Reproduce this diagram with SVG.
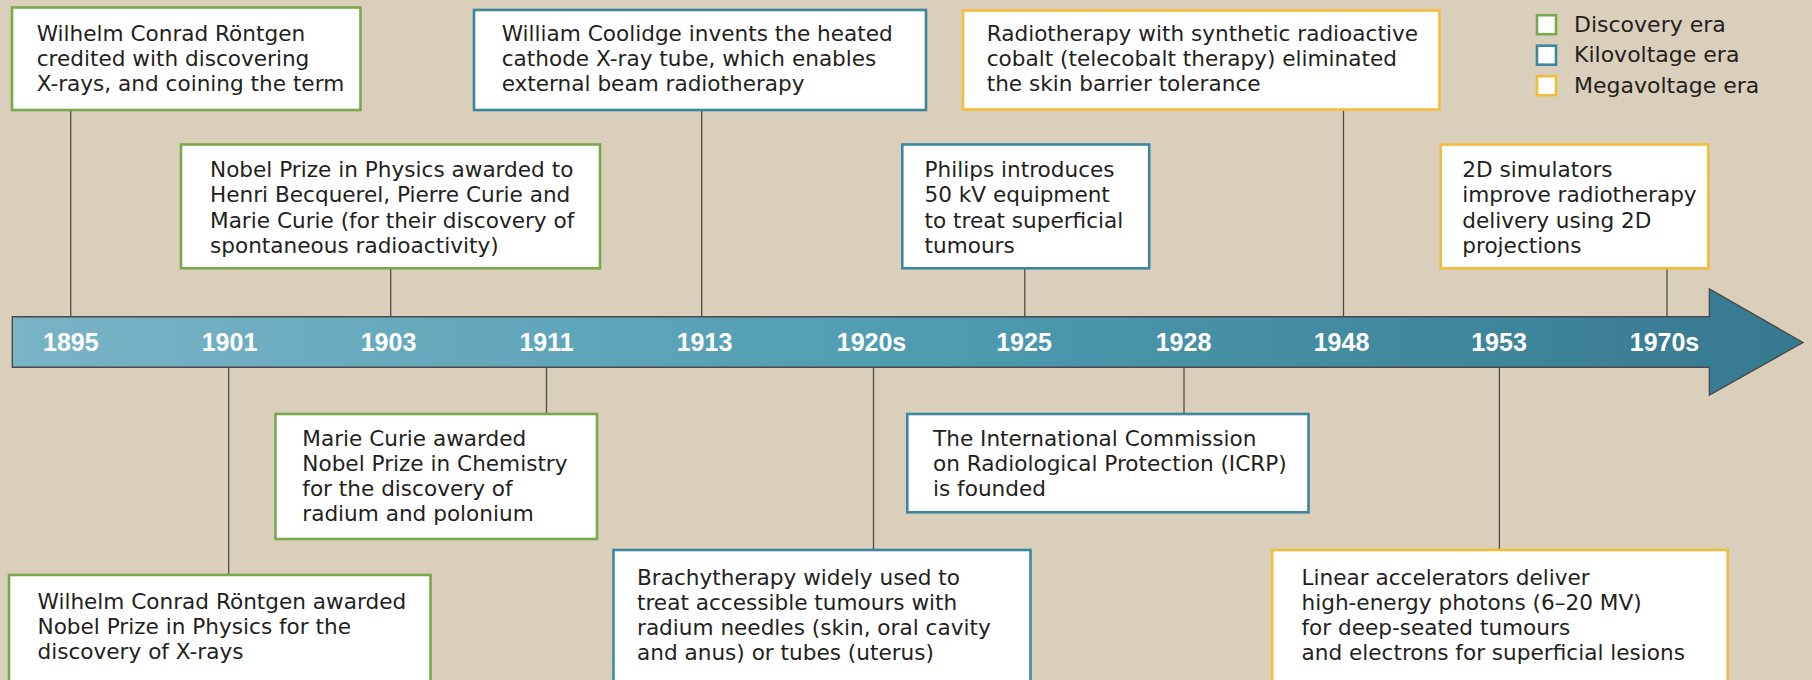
<svg xmlns="http://www.w3.org/2000/svg" width="1812" height="680" viewBox="0 0 1812 680">
<style>
.bx{fill:#ffffff;stroke-width:2.6}
.g{stroke:#7aa84c}
.b{stroke:#3c87a0}
.y{stroke:#f1bd3d}
.t{font-family:"DejaVu Sans",sans-serif;font-size:21.6px;fill:#231f20}
.lg{font-family:"DejaVu Sans",sans-serif;font-size:22px;fill:#231f20}
.yr{font-family:"Liberation Sans",Arial,sans-serif;font-weight:bold;font-size:25px;fill:#ffffff;text-anchor:middle}
.c{stroke:#4d4d4d;stroke-width:1.3;fill:none}
</style>
<defs>
<linearGradient id="bar" x1="0" y1="0" x2="1" y2="0">
<stop offset="0" stop-color="#7ab4c6"/>
<stop offset="0.5" stop-color="#4f9cb1"/>
<stop offset="1" stop-color="#367990"/>
</linearGradient>
</defs>
<rect x="0" y="0" width="1812" height="680" fill="#d9cfba"/>

<g id="connectors">
<line class="c" x1="70.7" y1="110" x2="70.7" y2="317"/>
<line class="c" x1="390.7" y1="268" x2="390.7" y2="317"/>
<line class="c" x1="701.7" y1="110" x2="701.7" y2="317"/>
<line class="c" x1="1024.8" y1="268" x2="1024.8" y2="317"/>
<line class="c" x1="1343.5" y1="110" x2="1343.5" y2="317"/>
<line class="c" x1="1667" y1="268" x2="1667" y2="317"/>
<line class="c" x1="228.7" y1="367" x2="228.7" y2="575"/>
<line class="c" x1="546.5" y1="367" x2="546.5" y2="414"/>
<line class="c" x1="873.5" y1="367" x2="873.5" y2="550"/>
<line class="c" x1="1184" y1="367" x2="1184" y2="414"/>
<line class="c" x1="1499.4" y1="367" x2="1499.4" y2="550"/>
</g>

<g id="timeline">
<polygon points="12.3,316.7 1709.4,316.7 1709.4,289 1803,342.5 1709.4,395 1709.4,367.3 12.3,367.3" fill="url(#bar)" stroke="#4a4a4a" stroke-width="1.4"/>
<text class="yr" x="70.8" y="351">1895</text>
<text class="yr" x="229.5" y="351">1901</text>
<text class="yr" x="388.5" y="351">1903</text>
<text class="yr" x="546.6" y="351">1911</text>
<text class="yr" x="704.5" y="351">1913</text>
<text class="yr" x="871.5" y="351">1920s</text>
<text class="yr" x="1024" y="351">1925</text>
<text class="yr" x="1183.5" y="351">1928</text>
<text class="yr" x="1341.5" y="351">1948</text>
<text class="yr" x="1499" y="351">1953</text>
<text class="yr" x="1664.5" y="351">1970s</text>
</g>

<g id="n1895">
<rect class="bx g" x="12" y="7.5" width="348.5" height="102.5"/>
<text class="t"><tspan x="36.7" y="40.5">Wilhelm Conrad Röntgen</tspan><tspan x="36.7" y="65.5">credited with discovering</tspan><tspan x="36.7" y="90.5">X-rays, and coining the term</tspan></text>
</g>

<g id="n1903">
<rect class="bx g" x="181" y="144.5" width="419" height="123.8"/>
<text class="t"><tspan x="210" y="176.7">Nobel Prize in Physics awarded to</tspan><tspan x="210" y="202.2">Henri Becquerel, Pierre Curie and</tspan><tspan x="210" y="227.7">Marie Curie (for their discovery of</tspan><tspan x="210" y="253">spontaneous radioactivity)</tspan></text>
</g>

<g id="n1913">
<rect class="bx b" x="474" y="10" width="452" height="100"/>
<text class="t"><tspan x="501.7" y="40.5">William Coolidge invents the heated</tspan><tspan x="501.7" y="65.5">cathode X-ray tube, which enables</tspan><tspan x="501.7" y="90.5">external beam radiotherapy</tspan></text>
</g>

<g id="n1925">
<rect class="bx b" x="902.3" y="144.5" width="246.9" height="123.8"/>
<text class="t"><tspan x="924.5" y="176.7">Philips introduces</tspan><tspan x="924.5" y="202.2">50 kV equipment</tspan><tspan x="924.5" y="227.7">to treat superficial</tspan><tspan x="924.5" y="253">tumours</tspan></text>
</g>

<g id="n1948">
<rect class="bx y" x="963" y="10.5" width="476.5" height="99"/>
<text class="t"><tspan x="986.7" y="40.5">Radiotherapy with synthetic radioactive</tspan><tspan x="986.7" y="65.5">cobalt (telecobalt therapy) eliminated</tspan><tspan x="986.7" y="90.5">the skin barrier tolerance</tspan></text>
</g>

<g id="n1970s">
<rect class="bx y" x="1440.7" y="144.5" width="267.6" height="123.8"/>
<text class="t"><tspan x="1462.3" y="176.7">2D simulators</tspan><tspan x="1462.3" y="202.2">improve radiotherapy</tspan><tspan x="1462.3" y="227.7">delivery using 2D</tspan><tspan x="1462.3" y="253">projections</tspan></text>
</g>

<g id="n1901">
<rect class="bx g" x="9" y="575" width="421.5" height="120"/>
<text class="t"><tspan x="37.5" y="609.3">Wilhelm Conrad Röntgen awarded</tspan><tspan x="37.5" y="634.3">Nobel Prize in Physics for the</tspan><tspan x="37.5" y="659.3">discovery of X-rays</tspan></text>
</g>

<g id="n1911">
<rect class="bx g" x="275.5" y="414" width="321.5" height="125"/>
<text class="t"><tspan x="302.3" y="445.7">Marie Curie awarded</tspan><tspan x="302.3" y="470.9">Nobel Prize in Chemistry</tspan><tspan x="302.3" y="496">for the discovery of</tspan><tspan x="302.3" y="521.2">radium and polonium</tspan></text>
</g>

<g id="n1920s">
<rect class="bx b" x="613.5" y="550" width="417" height="145"/>
<text class="t"><tspan x="637" y="585">Brachytherapy widely used to</tspan><tspan x="637" y="610">treat accessible tumours with</tspan><tspan x="637" y="635">radium needles (skin, oral cavity</tspan><tspan x="637" y="660">and anus) or tubes (uterus)</tspan></text>
</g>

<g id="n1928">
<rect class="bx b" x="907.3" y="414" width="401.2" height="98.3"/>
<text class="t"><tspan x="933" y="445.7">The International Commission</tspan><tspan x="933" y="470.9">on Radiological Protection (ICRP)</tspan><tspan x="933" y="496">is founded</tspan></text>
</g>

<g id="n1953">
<rect class="bx y" x="1272.2" y="550" width="455.5" height="145"/>
<text class="t"><tspan x="1301.5" y="585">Linear accelerators deliver</tspan><tspan x="1301.5" y="610">high-energy photons (6–20 MV)</tspan><tspan x="1301.5" y="635">for deep-seated tumours</tspan><tspan x="1301.5" y="660">and electrons for superficial lesions</tspan></text>
</g>

<g id="legend">
<rect class="bx g" x="1537" y="15.2" width="19" height="19"/>
<rect class="bx b" x="1537" y="45.7" width="19" height="19"/>
<rect class="bx y" x="1537" y="76.2" width="19" height="19"/>
<text class="lg" x="1574" y="32">Discovery era</text>
<text class="lg" x="1574" y="62.3">Kilovoltage era</text>
<text class="lg" x="1574" y="92.6">Megavoltage era</text>
</g>
</svg>
